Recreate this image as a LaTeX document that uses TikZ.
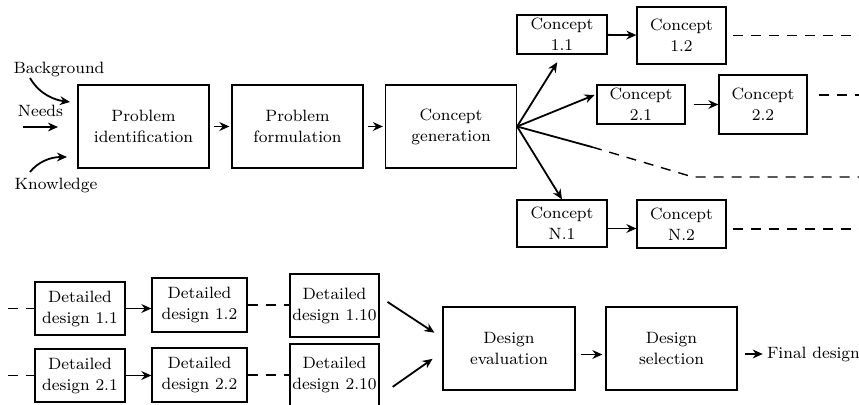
\documentclass[tikz,border=0pt]{standalone}
\usetikzlibrary{arrows.meta}
\begin{document}
\begin{tikzpicture}[x=0.5pt, y=-0.5pt, font=\fontsize{8.2}{10.5}\selectfont,
  box/.style={draw, rectangle, align=center, inner sep=0pt, line width=0.6pt},
  bigbox/.style={box, minimum width=65.5pt, minimum height=41.5pt},
  link/.style={-{Stealth[length=5pt, width=4.4pt]}, line width=0.9pt},
  cont/.style={dash pattern=on 5pt off 4pt, line width=0.7pt}]
  \useasboundingbox (0,0) rectangle (859,405);

  % main chain
  \node (pid) [bigbox] at (143.5,126.5) {Problem\\identification};
  \node (pfm) [bigbox] at (297.5,126.5) {Problem\\formulation};
  \node (cgen) [bigbox] at (451,126.5) {Concept\\generation};

  \node (bg) at (59,69) {Background};
  \node (needs) at (40.5,111) {Needs};
  \node (kn) at (56,185) {Knowledge};
  \coordinate (bgs) at (30,78);  \coordinate (bge) at (70,102);
  \coordinate (nds) at (23,127); \coordinate (nde) at (58,127);
  \coordinate (kns) at (30,172); \coordinate (kne) at (67,157);

  \draw[link] (bgs) .. controls (40,95) and (55,100) .. (bge);
  \draw[link] (nds) -- (nde);
  \draw[link] (kns) .. controls (38,162) and (50,157) .. (kne);
  \draw[link, shorten <=2pt, shorten >=1pt] (pid) -- (pfm);
  \draw[link, shorten <=2pt, shorten >=1pt] (pfm) -- (cgen);

  % concepts
  \node (c11) [box, minimum width=45pt, minimum height=19.5pt] at (562,34.5) {Concept\\1.1};
  \node (c12) [box, minimum width=44.5pt, minimum height=28.5pt] at (681.5,35.5) {Concept\\1.2};
  \node (c21) [box, minimum width=44pt, minimum height=19.5pt] at (641,104.5) {Concept\\2.1};
  \node (c22) [box, minimum width=44pt, minimum height=29.5pt] at (763,104.5) {Concept\\2.2};
  \node (cN1) [box, minimum width=45pt, minimum height=23.5pt] at (562,223.5) {Concept\\N.1};
  \node (cN2) [box, minimum width=44.5pt, minimum height=24pt] at (681.5,224) {Concept\\N.2};

  \coordinate (fa) at (592,147); \coordinate (fb) at (693,177); \coordinate (fc) at (859,177);
  \coordinate (e12) at (859,35.5); \coordinate (e22) at (859,95); \coordinate (eN2) at (859,229);

  \draw[link, shorten >=4.5pt] (cgen.east) -- (c11.south);
  \draw[link, shorten >=1pt] (cgen.east) -- (c21.167);
  \draw[link] (cgen.east) -- (cN1.north);
  \draw[line width=0.9pt] (cgen.east) -- (fa);
  \draw[cont] (fa) -- (fb) -- (fc);

  \draw[link] (c11) -- (c12);
  \draw[link, shorten <=4pt] (c21) -- (c22);
  \draw[link] ([yshift=-2.5pt]cN1.east) -- ([yshift=-2.5pt]cN1.east -| cN2.west);
  \draw[cont, shorten <=3pt] (c12.east) -- (e12);
  \draw[cont] ([xshift=5.5pt, yshift=4.75pt]c22.east) -- (e22);
  \draw[cont, shorten <=3pt] (eN2 -| cN2.east) -- (eN2);

  % detailed designs
  \node (d11) [box, minimum width=45pt, minimum height=26.5pt] at (80,308.5) {Detailed\\design 1.1};
  \node (d12) [box, minimum width=47.5pt, minimum height=27pt] at (199.5,305) {Detailed\\design 1.2};
  \node (d110) [box, minimum width=44.5pt, minimum height=31.5pt] at (334.5,305.5) {Detailed\\design 1.10};
  \node (d21) [box, minimum width=45pt, minimum height=26.5pt] at (80,375.5) {Detailed\\design 2.1};
  \node (d22) [box, minimum width=47.5pt, minimum height=27pt] at (199.5,375) {Detailed\\design 2.2};
  \node (d210) [box, minimum width=44.5pt, minimum height=31pt] at (334.5,375) {Detailed\\design 2.10};

  \node (deval) [box, minimum width=66pt, minimum height=41.5pt] at (509,348.5) {Design\\evaluation};
  \node (dsel) [bigbox] at (671.5,348.5) {Design\\selection};
  \node (final) [inner sep=2pt] at (813.5,354) {Final design};

  \coordinate (l1) at (8,308.5); \coordinate (l2) at (8,375.5);
  \draw[cont] (l1) -- (d11.west);
  \draw[cont] (l2) -- (d21.west);
  \draw[link] (d11.east) -- (d11.east -| d12.west);
  \draw[link] (d21.east) -- (d21.east -| d22.west);
  \draw[cont] (d12.east) -- (d12.east -| d110.west);
  \draw[cont] (d22.east) -- (d22.east -| d210.west);

  \draw[link, shorten <=4.75pt, shorten >=4.75pt] (d110.11) -- (deval.171);
  \draw[link, shorten <=8pt, shorten >=6pt] (d210.-25) -- (deval.183);
  \draw[link, shorten <=2.5pt, shorten >=1.5pt] ([yshift=-3pt]deval.east) -- ([yshift=-3pt]dsel.west);
  \draw[link, shorten <=3.5pt] (final.west -| dsel.east) -- (final.west);
\end{tikzpicture}
\end{document}
